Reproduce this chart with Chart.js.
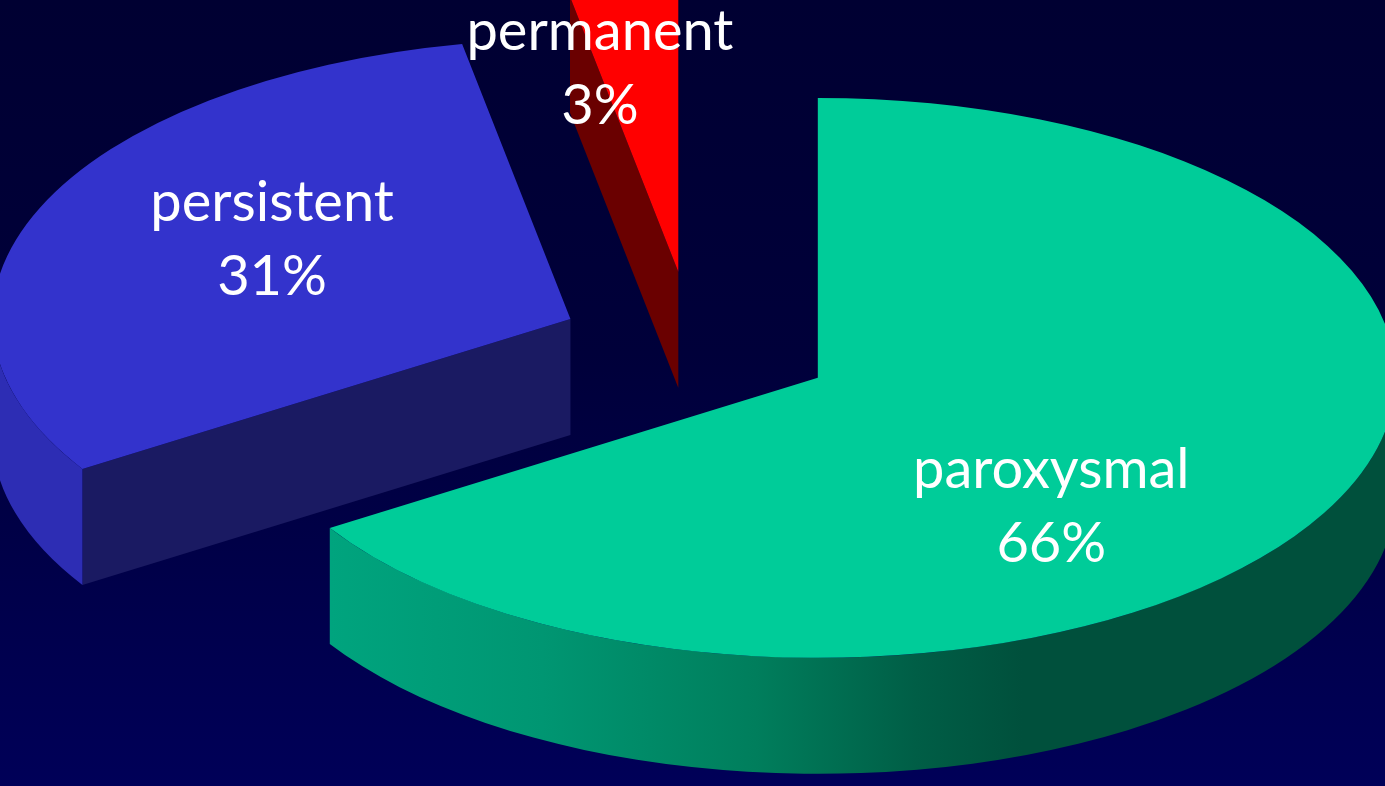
<!DOCTYPE html>
<html>
<head>
<meta charset="utf-8">
<script src="https://cdn.jsdelivr.net/npm/chart.js@4.4.1/dist/chart.umd.min.js"></script>
<style>
  html, body { margin: 0; padding: 0; }
  body {
    width: 1385px; height: 786px; overflow: hidden;
    background: linear-gradient(to bottom, #000032 0%, #00003a 45%, #000058 100%);
  }
</style>
</head>
<body>
<canvas id="afChart" width="1385" height="786"></canvas>
<script>
const categories = ["paroxysmal", "persistent", "permanent"];
const shares = [66, 31, 3];
const shareLabels = ["66%", "31%", "3%"];

const topColors = ["#00cc99", "#3333cc", "#ff0000"];
const sideColors = ["#00503c", "#1a1a62", "#6a0000"];

// 3d look: squash the pie, push each slice out, and extrude it downwards
const pie3d = {
  id: "pie3d",
  slices(chart, opts) {
    const k = opts.tilt;
    return chart.getDatasetMeta(0).data.map((arc, i) => {
      const p = arc.getProps(["x", "y", "startAngle", "endAngle", "outerRadius"], true);
      const mid = (p.startAngle + p.endAngle) / 2;
      const e = opts.explode[i];
      const ex = Math.cos(mid) * e, ey = Math.sin(mid) * e;
      return { arc, i, ...p, mid, ex, ey, cx: p.x + ex, cy: p.y + k * ey };
    });
  },
  beforeDatasetDraw(chart, args, opts) {
    const ctx = chart.ctx;
    const k = opts.tilt, D = opts.depth;
    const list = this.slices(chart, opts).sort((a, b) => a.cy - b.cy);

    list.forEach(s => {
      const r = s.outerRadius;
      const pt = (t, z) => [s.cx + r * Math.cos(t), s.cy + k * r * Math.sin(t) + z];

      // radial walls (only the ones facing the viewer)
      const walls = [];
      if (Math.cos(s.startAngle) < -1e-3) walls.push(s.startAngle);
      if (Math.cos(s.endAngle) > 1e-3) walls.push(s.endAngle);
      walls.forEach(a => {
        const p0 = pt(a, 0), p1 = pt(a, D);
        ctx.beginPath();
        ctx.moveTo(s.cx, s.cy);
        ctx.lineTo(p0[0], p0[1]);
        ctx.lineTo(p1[0], p1[1]);
        ctx.lineTo(s.cx, s.cy + D);
        ctx.closePath();
        ctx.fillStyle = sideColors[s.i];
        ctx.fill();
      });

      // outer curved wall, front half only
      [0, 2 * Math.PI].forEach(base => {
        const a0 = Math.max(s.startAngle, base), a1 = Math.min(s.endAngle, base + Math.PI);
        if (a1 <= a0) return;
        const pa = pt(a0, 0), pb = pt(a1, 0);
        ctx.beginPath();
        ctx.ellipse(s.cx, s.cy, r, k * r, 0, a0, a1, false);
        ctx.lineTo(pb[0], pb[1] + D);
        ctx.ellipse(s.cx, s.cy + D, r, k * r, 0, a1, a0, true);
        ctx.closePath();
        const stops = opts.rimStops[s.i];
        if (typeof stops === "string") {
          ctx.fillStyle = stops;
        } else {
          const g = ctx.createLinearGradient(pb[0], 0, pa[0], 0);
          stops.forEach(([f, c]) => g.addColorStop(f, c));
          ctx.fillStyle = g;
        }
        ctx.fill();
      });

      // top face: the chart.js arc itself, squashed and exploded
      ctx.save();
      ctx.translate(s.x, s.y);
      ctx.scale(1, k);
      ctx.translate(-s.x + s.ex, -s.y + s.ey);
      s.arc.draw(ctx);
      ctx.restore();
    });
    return false;
  },
  afterDatasetsDraw(chart, args, opts) {
    const ctx = chart.ctx;
    const k = opts.tilt;
    this.slices(chart, opts).forEach(s => {
      const f = opts.labelRadius[s.i];
      const [nx, ny] = opts.labelShift[s.i];
      const x = s.cx + f * s.outerRadius * Math.cos(s.mid) + nx;
      const y = s.cy + f * k * s.outerRadius * Math.sin(s.mid) + ny;
      ctx.save();
      ctx.font = '56px "Comic Sans MS", Lato, "DejaVu Sans", sans-serif';
      ctx.fillStyle = "#ffffff";
      ctx.textAlign = "center";
      ctx.textBaseline = "alphabetic";
      ctx.fillText(categories[s.i], x, y);
      ctx.fillText(shareLabels[s.i], x, y + 74);
      ctx.restore();
    });
  }
};

const ctx = document.getElementById("afChart").getContext("2d");
const chart = new Chart(ctx, {
  type: "pie",
  data: {
    labels: categories,
    datasets: [{
      data: shares,
      backgroundColor: topColors,
      borderWidth: 0
    }]
  },
  options: {
    responsive: false,
    animation: false,
    events: [],
    radius: 578,
    rotation: 0,
    layout: { padding: { bottom: 97 } },
    plugins: {
      legend: { display: false },
      tooltip: { enabled: false },
      pie3d: {
        tilt: 0.4844,
        depth: 116,
        explode: [143, 133, 151],
        rimStops: [
          [[0, "#00a47e"], [0.2, "#009672"], [0.4, "#007e5c"], [0.55, "#005e46"], [0.65, "#00503c"], [1, "#00503c"]],
          "#2d2db4",
          "#8a0000"
        ],
        labelRadius: [0.461, 0.5625, 0.742],
        labelShift: [[0, 48], [0, -35], [-38, -15]]
      }
    }
  },
  plugins: [pie3d]
});
</script>
</body>
</html>
